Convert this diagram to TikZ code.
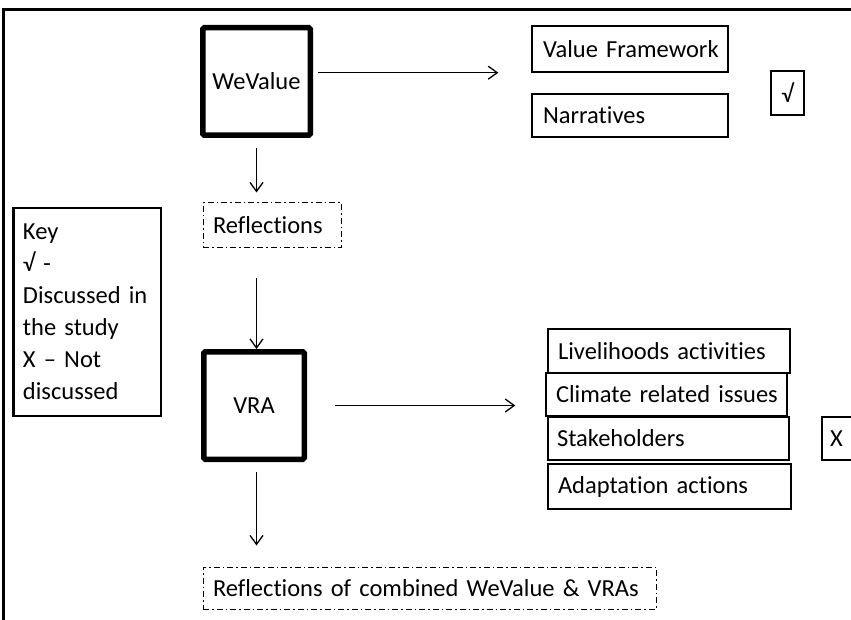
\documentclass[tikz,border=0pt]{standalone}
\usepackage{fontspec}
\setmainfont{Carlito}[Ligatures=NoCommon]
\usetikzlibrary{arrows.meta,calc}
\begin{document}
\begin{tikzpicture}[x=1pt,y=-1pt,
  font=\fontsize{24.5}{32}\selectfont,
  thickbox/.style={draw, line width=5.5pt, rounded corners=1.5pt, inner sep=0pt, align=center},
  thinbox/.style={draw, line width=1.4pt, inner sep=0pt, align=left},
  keybox/.style={draw, line width=2.5pt, inner sep=0pt, align=left},
  dashbox/.style={draw, line width=1pt, inner sep=0pt, align=left, dash pattern=on 6pt off 3pt on 1.5pt off 3pt},
  arr/.style={line width=1.3pt, -{Straight Barb[length=9pt,width=13pt,line width=1.3pt]}},
]
\useasboundingbox (0,0) rectangle (851,620);
% frame
\draw[line width=3pt] (3.5,625) -- (3.5,9.5) -- (856,9.5);

% WeValue branch
\node[thickbox, minimum width=107.5pt, minimum height=107.5pt] (wv) at (256.5,81.5) {WeValue};
\node[thinbox, minimum width=196pt, minimum height=46pt, text width=174pt] (vf) at (630,49) {\mbox{Value Framework}};
\node[thinbox, minimum width=196pt, minimum height=43pt, text width=174pt] (narr) at (630,115.5) {\mbox{Narratives}};
\node[thinbox, minimum width=33pt, minimum height=44pt, align=center] (chk) at (787.5,93) {√};
\node[dashbox, minimum width=138pt, minimum height=45pt, text width=118pt] (refl) at (272,225.5) {\mbox{Reflections}};

% Key
\node[keybox, minimum width=147.5pt, minimum height=207.5pt, text width=128pt] (key) at (87,312) {\mbox{Key}\\\mbox{√ -}\\\mbox{Discussed in}\\\mbox{the study}\\\mbox{X – Not}\\\mbox{discussed}};

% VRA branch
\node[thickbox, minimum width=100.5pt, minimum height=107.5pt] (vra) at (254,405.5) {VRA};
\node[thinbox, minimum width=242pt, minimum height=44pt, text width=222pt] (liv) at (669,351) {\mbox{Livelihoods activities}};
\node[thinbox, minimum width=241pt, minimum height=43pt, text width=221pt] (clim) at (666.5,394.5) {\mbox{Climate related issues}};
\node[thinbox, minimum width=241pt, minimum height=43pt, text width=223pt] (stake) at (668.5,438.5) {\mbox{Stakeholders}};
\node[thinbox, minimum width=243pt, minimum height=45pt, text width=223pt] (adapt) at (669.5,486.5) {\mbox{Adaptation actions}};
\node[thinbox, minimum width=40pt, minimum height=43pt, text width=24pt] (xb) at (842,438.5) {\mbox{X}};
\node[dashbox, minimum width=453pt, minimum height=42pt, text width=433pt] (comb) at (429.5,588) {\mbox{Reflections of combined WeValue \& VRAs}};

% arrows
\draw[arr] ($(wv.east |- vf.south)+(5,0)$) -- ($(vf.west |- vf.south)+(-33,0)$);
\draw[arr] ($(wv.south)+(0,10)$) -- ($(wv.south |- refl.north)+(0,-10)$);
\draw[arr] ($(wv.south |- refl.south)+(0,30)$) -- (wv.south |- vra.north);
\draw[arr] ($(vra.east)+(28,0)$) -- ($(liv.west |- vra.east)+(-32,0)$);
\draw[arr] ($(wv.south |- vra.south)+(0,10)$) -- ($(wv.south |- comb.north)+(0,-21)$);
\end{tikzpicture}
\end{document}
